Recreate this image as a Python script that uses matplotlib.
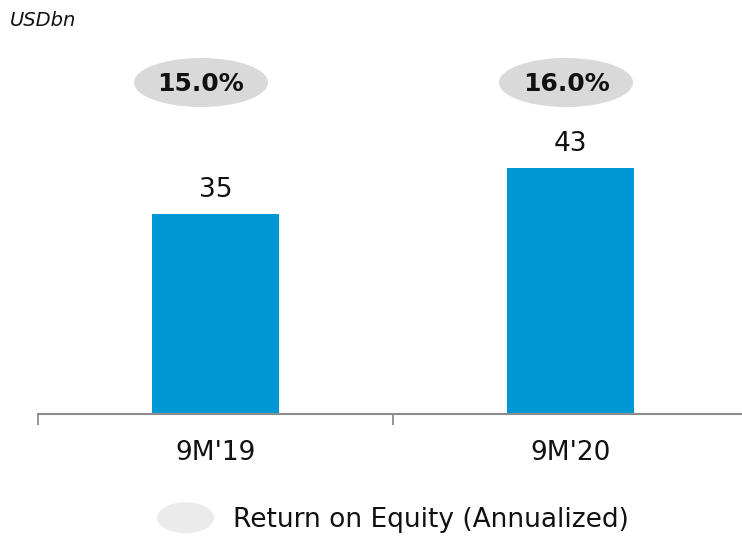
import matplotlib
matplotlib.use("Agg")
import matplotlib.pyplot as plt
from matplotlib.patches import Ellipse
from matplotlib.legend_handler import HandlerPatch

categories = ["9M'19", "9M'20"]
values = [35, 43]
roe_labels = ["15.0%", "16.0%"]
legend_label = "Return on Equity (Annualized)"
unit_label = "USDbn"

W, H = 742, 536
fig = plt.figure(figsize=(W / 100, H / 100), dpi=100)
ax_left, ax_bottom_px, ax_right_px = 38, 414, 748
ax = fig.add_axes([ax_left / W, (H - ax_bottom_px) / H,
                   (ax_right_px - ax_left) / W, ax_bottom_px / H])
ax.patch.set_alpha(0)

px_per_unit = 200 / 35.0
ymax = ax_bottom_px / px_per_unit
ax.set_xlim(-0.5, len(categories) - 0.5)
ax.set_ylim(0, ymax)

xs = list(range(len(categories)))
ax.bar(xs, values, width=0.36, color="#0097d7", zorder=2)
for x, v in zip(xs, values):
    ax.annotate(f"{v}", (x, v), xytext=(0, 12.2), textcoords="offset points",
                ha="center", va="baseline", fontsize=19, color="#111111")

# ROE ellipses
units_per_px_x = len(categories) / (ax_right_px - ax_left)
ell_y = (ax_bottom_px - 82.5) / px_per_unit
ell_w = 134 * units_per_px_x
ell_h = 49 / px_per_unit
ell_dx = [-14.5 * units_per_px_x, -4.5 * units_per_px_x]
for x, dx, lab in zip(xs, ell_dx, roe_labels):
    ax.add_patch(Ellipse((x + dx, ell_y), ell_w, ell_h,
                         facecolor="#d9d9d9", edgecolor="none", zorder=2,
                         clip_on=False))
    ax.text(x + dx, ell_y + 0.2, lab, ha="center", va="center_baseline",
            fontsize=18, fontweight="bold", color="#111111", zorder=3)

for s in ["top", "right", "left"]:
    ax.spines[s].set_visible(False)
ax.spines["bottom"].set_color("#8c8c8c")
ax.spines["bottom"].set_linewidth(1.5)
ax.set_yticks([])
ax.set_xticks(xs)
ax.set_xticklabels(categories, fontsize=19, color="#111111")
ax.tick_params(axis="x", which="major", length=0, pad=18.5)
ax.set_xticks([-0.5, 0.5, 1.5], minor=True)
ax.tick_params(axis="x", which="minor", length=8, width=1.3, color="#8c8c8c")

fig.text(10 / W, 1 - 21 / H, unit_label, fontsize=14, style="italic",
         va="center", ha="left", color="#111111")


class HandlerEllipse(HandlerPatch):
    def create_artists(self, legend, orig_handle, xdescent, ydescent,
                       width, height, fontsize, trans):
        center = 0.5 * width - 0.5 * xdescent, 0.5 * height - 0.5 * ydescent
        p = Ellipse(xy=center, width=width, height=height * 1.68)
        self.update_prop(p, orig_handle, legend)
        p.set_transform(trans)
        return [p]


handle = Ellipse((0, 0), 1, 1, facecolor="#ebebeb", edgecolor="none")
fig.legend([handle], [legend_label], handler_map={Ellipse: HandlerEllipse()},
           loc="center", bbox_to_anchor=(393 / W, 1 - 520 / H), frameon=False,
           fontsize=19, handlelength=2.16, handletextpad=0.72,
           labelcolor="#111111", borderpad=0, borderaxespad=0)

fig.savefig("out.png", dpi=100)
